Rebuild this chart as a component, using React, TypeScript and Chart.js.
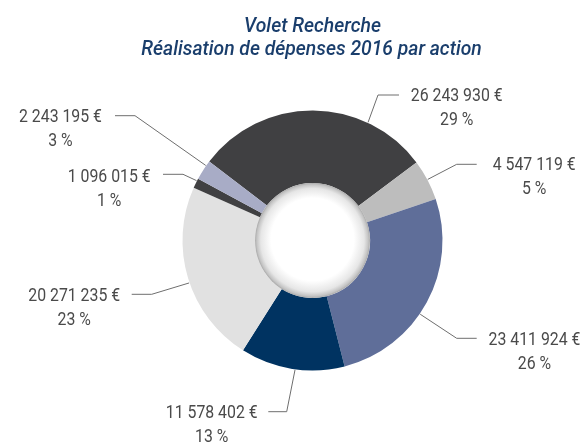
import React, { useEffect, useRef } from "react";
import { Chart, registerables } from "chart.js";

Chart.register(...registerables);

const titleLines = ["Volet Recherche", "Réalisation de dépenses 2016 par action"];
const categories = ["A1", "A2", "A3", "A4", "A5", "A6", "A7"];
const amounts = [26243930, 4547119, 23411924, 11578402, 20271235, 1096015, 2243195];
const colors = ["#404042", "#bdbdbd", "#5f6e99", "#003361", "#e1e1e1", "#404042", "#a8acc6"];

// label layout: text centre x, first baseline y, horizontal leader (x1 -> x2 at y), attach fraction along arc
const labelLayout = [
  { tx: 456.7, ty: 100.7, hx1: 399, hx2: 378, hy: 95, frac: 0.736 },
  { tx: 534.2, ty: 170, hx1: 476.7, hx2: 456.7, hy: 164.3, frac: 0.49 },
  { tx: 534.5, ty: 345, hx1: 476.7, hx2: 456.7, hy: 338.3, frac: 0.562 },
  { tx: 211.7, ty: 418.3, hx1: 268.3, hx2: 286.7, hy: 411.7, frac: 0.472 },
  { tx: 74.2, ty: 300.7, hx1: 131.7, hx2: 151.7, hy: 294.3, frac: 0.474 },
  { tx: 109.2, ty: 181.7, hx1: 163, hx2: 183, hy: 174.3, frac: 0.76 },
  { tx: 60.5, ty: 122.3, hx1: 115, hx2: 135, hy: 115.7, frac: 0.746 },
];

const fmt = (v: number) => String(v).replace(/\B(?=(\d{3})+(?!\d))/g, " ") + " €";

function scaledText(ctx: any, text: string, x: number, y: number, sx: number) {
  ctx.save();
  ctx.translate(x, y);
  ctx.scale(sx, 1);
  ctx.fillText(text, 0, 0);
  ctx.restore();
}

const decorPlugin = {
  id: "decor",
  afterDatasetsDraw(chart: any) {
    const ctx = chart.ctx;
    const meta = chart.getDatasetMeta(0);
    const arcs = meta.data;
    if (!arcs.length) return;
    const a0 = arcs[0];
    const cx = a0.x, cy = a0.y;
    const rIn = a0.innerRadius;
    // hole
    ctx.save();
    const g = ctx.createRadialGradient(cx, cy - 4, 0, cx, cy, rIn);
    g.addColorStop(0, "#ffffff");
    g.addColorStop(0.72, "#ffffff");
    g.addColorStop(0.9, "#e6e6e6");
    g.addColorStop(0.97, "#c4c4c4");
    g.addColorStop(1, "#a8a8a8");
    ctx.beginPath();
    ctx.arc(cx, cy, rIn, 0, Math.PI * 2);
    ctx.fillStyle = g;
    ctx.fill();
    ctx.restore();

    const total = amounts.reduce((s, v) => s + v, 0);
    ctx.save();
    ctx.strokeStyle = "#6e6e6e";
    ctx.lineWidth = 1;
    ctx.fillStyle = "#4a4a4a";
    ctx.font = "400 18px Roboto, 'Liberation Sans', sans-serif";
    ctx.textAlign = "center";
    ctx.textBaseline = "alphabetic";
    arcs.forEach((arc: any, i: number) => {
      const L = labelLayout[i];
      const ang = arc.startAngle + (arc.endAngle - arc.startAngle) * L.frac;
      const r = arc.outerRadius + 0.5;
      const px = arc.x + r * Math.cos(ang);
      const py = arc.y + r * Math.sin(ang);
      ctx.beginPath();
      ctx.moveTo(L.hx1, L.hy);
      ctx.lineTo(L.hx2, L.hy);
      ctx.lineTo(px, py);
      ctx.stroke();
      scaledText(ctx, fmt(amounts[i]), L.tx, L.ty, 0.88);
      scaledText(ctx, Math.round((amounts[i] / total) * 100) + " %", L.tx, L.ty + 24, 0.88);
    });
    ctx.restore();

    // title
    ctx.save();
    ctx.fillStyle = "#1a3e6c";
    ctx.font = "italic 500 21px Roboto, 'Liberation Sans', sans-serif";
    ctx.textAlign = "center";
    scaledText(ctx, titleLines[0], 312.5, 31.7, 0.92);
    scaledText(ctx, titleLines[1], 311.5, 55, 0.92);
    ctx.restore();
  },
};

export default function App() {
  const ref = useRef<HTMLCanvasElement | null>(null);
  useEffect(() => {
    if (!ref.current) return;
    const chart = new Chart(ref.current, {
      type: "doughnut",
      data: {
        labels: categories,
        datasets: [
          {
            data: amounts,
            backgroundColor: colors,
            borderWidth: 0,
          },
        ],
      },
      options: {
        animation: false,
        responsive: true,
        maintainAspectRatio: false,
        rotation: -52.6,
        cutout: "44.2%",
        layout: { padding: { left: 182.5, right: 143.5, top: 110.5, bottom: 73.5 } },
        plugins: {
          legend: { display: false },
          title: { display: false },
          tooltip: { enabled: false },
        },
      },
      plugins: [decorPlugin],
    });
    return () => chart.destroy();
  }, []);
  return (
    <div style={{ position: "fixed", left: 0, top: 0, width: 586, height: 444, background: "#ffffff" }}>
      <canvas ref={ref} />
    </div>
  );
}
